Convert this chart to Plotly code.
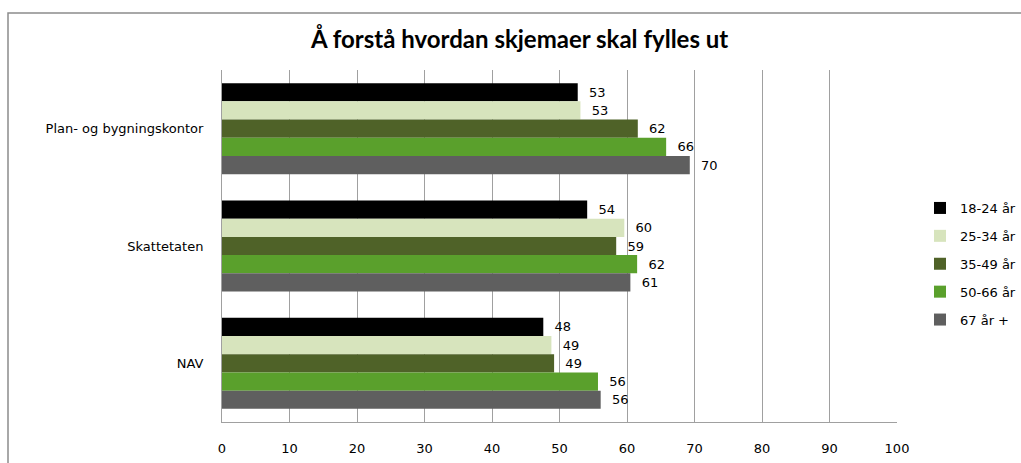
import plotly.graph_objects as go

categories = ["Plan- og bygningskontor", "Skattetaten", "NAV"]
series_names = ["18-24 år", "25-34 år", "35-49 år", "50-66 år", "67 år +"]
values_18_24 = [52.7, 54.1, 47.6]
values_25_34 = [53.1, 59.6, 48.8]
values_35_49 = [61.6, 58.4, 49.2]
values_50_66 = [65.8, 61.5, 55.7]
values_67 = [69.3, 60.5, 56.1]
labels_18_24 = ["53", "54", "48"]
labels_25_34 = ["53", "60", "49"]
labels_35_49 = ["62", "59", "49"]
labels_50_66 = ["66", "62", "56"]
labels_67 = ["70", "61", "56"]
colors = ["#000000", "#d7e4bd", "#4f6228", "#5aa02c", "#5f5f5f"]
x_ticks = [0, 10, 20, 30, 40, 50, 60, 70, 80, 90, 100]

all_values = [values_18_24, values_25_34, values_35_49, values_50_66, values_67]
all_labels = [labels_18_24, labels_25_34, labels_35_49, labels_50_66, labels_67]

FONT = "DejaVu Sans"
fig = go.Figure()
for i, name in enumerate(series_names):
    fig.add_trace(go.Bar(
        y=categories, x=all_values[i], name=name, orientation="h",
        marker=dict(color=colors[i], line=dict(width=0)),
        text=["\u00a0\u00a0" + t for t in all_labels[i]],
        textposition="outside", constraintext="none", cliponaxis=False,
        textfont=dict(family=FONT, size=13, color="#000000"),
        legendgroup=name,
    ))

L, R, T, B = 222, 124, 70, 41
W, H = 1021, 463
pw, ph = W - L - R, H - T - B

fig.update_layout(
    width=W, height=H,
    margin=dict(l=L, r=R, t=T, b=B, pad=0, autoexpand=False),
    paper_bgcolor="white", plot_bgcolor="white",
    barmode="group", bargap=0.224, bargroupgap=0,
    title=dict(text="<b>Å forstå hvordan skjemaer skal fylles ut</b>",
               x=0.509, xanchor="center", y=1 - 40 / H, yanchor="middle",
               font=dict(family="Lato", size=24, color="#000000")),
    font=dict(family=FONT, size=13, color="#000000"),
    legend=dict(x=(920 - L) / pw, xanchor="left", y=1 - (193 - T) / ph, yanchor="top",
                traceorder="grouped", tracegroupgap=8,
                font=dict(family=FONT, size=13, color="#000000"),
                itemwidth=30, bgcolor="rgba(0,0,0,0)"),
    showlegend=True,
)
fig.update_xaxes(range=[0, 100], tickvals=x_ticks, showgrid=True, gridcolor="#a0a0a0", gridwidth=1,
                 showline=True, linecolor="#a0a0a0", linewidth=1, zeroline=False,
                 ticks="", ticklabelstandoff=14, tickfont=dict(family=FONT, size=13),
                 mirror=False, automargin=False)
fig.update_yaxes(autorange="reversed", showline=True, linecolor="#a0a0a0", linewidth=1,
                 showgrid=False, ticks="", ticklabelstandoff=15, automargin=False,
                 tickfont=dict(family=FONT, size=13))
fig.add_shape(type="rect", xref="paper", yref="paper",
              x0=(8 - L) / pw, x1=(1040 - L) / pw,
              y0=-(480 - (T + ph)) / ph, y1=1 + (T - 13) / ph,
              line=dict(color="#8c8c8c", width=1.5), layer="below")

fig.write_html("out.html", config={"displayModeBar": False},
               post_script="document.body.style.margin='0';document.body.style.padding='0';")
